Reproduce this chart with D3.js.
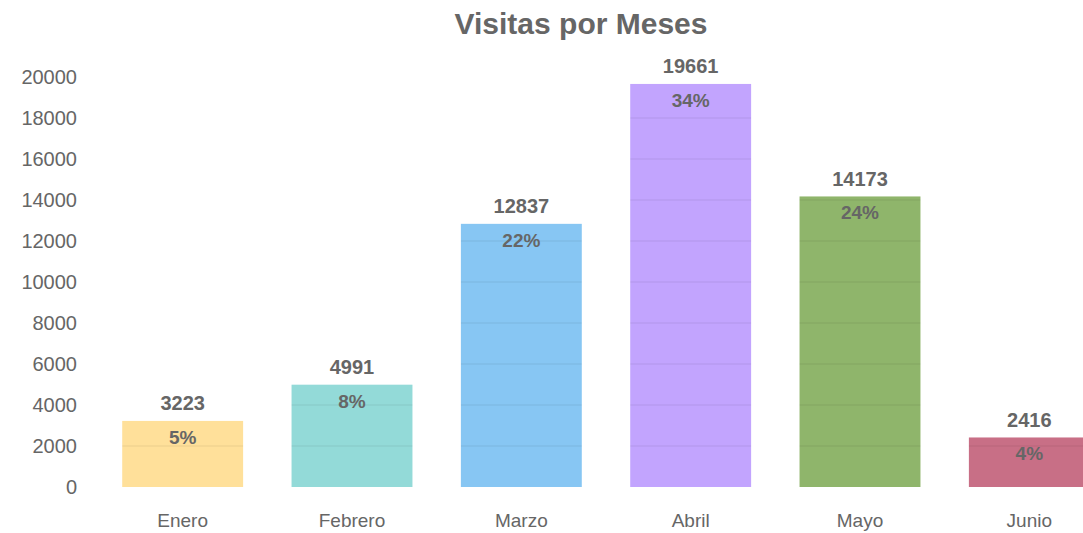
<!DOCTYPE html>
<meta charset="utf-8">
<head>
  <title>Visitas por Meses</title>
  <style>
    body { margin: 0; background: #fff; }
    text { font-family: "Liberation Sans", Arial, sans-serif; fill: #666; }
  </style>
</head>
<body>
  <script src="https://d3js.org/d3.v7.min.js"></script>
  <div id="chart"></div>
  <script>
    // data
    var months = ["Enero", "Febrero", "Marzo", "Abril", "Mayo", "Junio"];
    var visits = [3223, 4991, 12837, 19661, 14173, 2416];
    var percents = ["5%", "8%", "22%", "34%", "24%", "4%"];
    var colors = ["#FFE09A", "#93DAD8", "#87C6F3", "#C2A4FE", "#8FB56B", "#C86F86"];
    var yTicks = [0, 2000, 4000, 6000, 8000, 10000, 12000, 14000, 16000, 18000, 20000];

    var W = 1083, H = 533;
    var svg = d3.select("#chart").append("svg")
      .attr("width", W).attr("height", H);

    // title
    svg.append("text")
      .attr("x", 581).attr("y", 34)
      .attr("text-anchor", "middle")
      .style("font-size", "30px").style("font-weight", "bold")
      .text("Visitas por Meses");

    var x = d3.scaleBand()
      .domain(months)
      .range([98, 1114])
      .paddingInner(0.286)
      .paddingOuter(0.143);

    var y = d3.scaleLinear()
      .domain([0, 20000])
      .range([487, 77]);

    // y labels
    svg.selectAll(".ytick")
      .data(yTicks)
      .enter().append("text")
      .attr("class", "ytick")
      .attr("x", 77)
      .attr("y", function(d) { return y(d); })
      .attr("dy", "0.36em")
      .attr("text-anchor", "end")
      .style("font-size", "20px")
      .text(function(d) { return d; });

    // bars
    var clip = svg.append("clipPath").attr("id", "barclip");
    clip.selectAll("rect")
      .data(visits)
      .enter().append("rect")
      .attr("x", function(d, i) { return x(months[i]); })
      .attr("y", function(d) { return y(d); })
      .attr("width", x.bandwidth())
      .attr("height", function(d) { return y(0) - y(d); });

    svg.selectAll("rect.bar")
      .data(visits)
      .enter().append("rect")
      .attr("class", "bar")
      .attr("x", function(d, i) { return x(months[i]); })
      .attr("y", function(d) { return y(d); })
      .attr("width", x.bandwidth())
      .attr("height", function(d) { return y(0) - y(d); })
      .attr("fill", function(d, i) { return colors[i]; });

    // faint grid lines, only visible over the bars
    svg.append("g").attr("clip-path", "url(#barclip)")
      .selectAll(".grid")
      .data(yTicks.slice(1))
      .enter().append("line")
      .attr("class", "grid")
      .attr("x1", 98).attr("x2", W)
      .attr("y1", function(d) { return y(d); })
      .attr("y2", function(d) { return y(d); })
      .attr("stroke", "rgba(0,0,0,0.04)")
      .attr("stroke-width", 2);

    // value labels
    svg.selectAll(".val")
      .data(visits)
      .enter().append("text")
      .attr("class", "val")
      .attr("x", function(d, i) { return x(months[i]) + x.bandwidth() / 2; })
      .attr("y", function(d) { return y(d) - 18; })
      .attr("dy", "0.36em")
      .attr("text-anchor", "middle")
      .style("font-size", "20px").style("font-weight", "bold")
      .text(function(d) { return d; });

    // percent labels
    svg.selectAll(".pct")
      .data(percents)
      .enter().append("text")
      .attr("class", "pct")
      .attr("x", function(d, i) { return x(months[i]) + x.bandwidth() / 2; })
      .attr("y", function(d, i) { return y(visits[i]) + 16; })
      .attr("dy", "0.36em")
      .attr("text-anchor", "middle")
      .style("font-size", "19px").style("font-weight", "bold")
      .text(function(d) { return d; });

    // x labels
    svg.selectAll(".xlab")
      .data(months)
      .enter().append("text")
      .attr("class", "xlab")
      .attr("x", function(d) { return x(d) + x.bandwidth() / 2; })
      .attr("y", 520)
      .attr("dy", "0.36em")
      .attr("text-anchor", "middle")
      .style("font-size", "19px")
      .text(function(d) { return d; });
  </script>
</body>
